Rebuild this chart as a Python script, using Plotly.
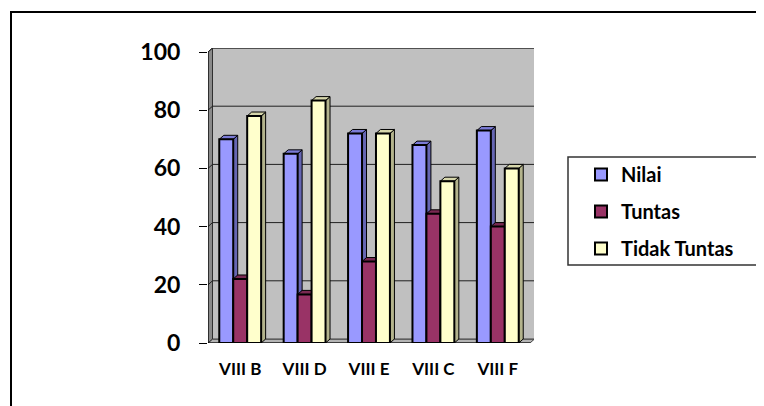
import plotly.graph_objects as go

# ---- data ----
categories = ["VIII B", "VIII D", "VIII E", "VIII C", "VIII F"]
nilai = [70, 65, 72, 68, 73]
tuntas = [22, 16.7, 28, 44.4, 40]
tidak_tuntas = [78, 83.3, 72, 55.6, 60]
series_names = ["Nilai", "Tuntas", "Tidak Tuntas"]
y_ticks = [0, 20, 40, 60, 80, 100]

# ---- styles ----
front_colors = ["#9999FF", "#993366", "#FFFFCC"]
side_colors = ["#6666B3", "#6B2447", "#B3B38C"]
top_colors = ["#7B7BD6", "#7A2952", "#D6D6AB"]
FONT = "Lato"

OFF = 8  # page body margin
W, H = 764, 406
L_px, R_px, T_px, B_px = 208 - OFF, 534 - OFF, 48 - OFF, 343 - OFF
top100_px = 52 - OFF
px_per_x = 64.4
px_per_y = (B_px - top100_px) / 100.0
x_lo = -0.5
x_hi = x_lo + (R_px - L_px) / px_per_x
y_hi = (B_px - T_px) / px_per_y
n = len(categories)
x_end = n - 0.5
dx = 4.5 / px_per_x
dy = 4.0 / px_per_y
bargap = 0.35
w = (1 - bargap) / 3

all_vals = [nilai, tuntas, tidak_tuntas]

fig = go.Figure()
for j, (name, vals) in enumerate(zip(series_names, all_vals)):
    fig.add_trace(go.Bar(
        x=list(range(n)), y=vals, name=name, legendgroup=name,
        marker=dict(color=front_colors[j], line=dict(color="black", width=2)),
        offsetgroup=str(j),
    ))

shapes = []
# floor
shapes.append(dict(type="path", xref="x", yref="y", layer="below",
                   path=f"M{x_lo},0 L{x_end},0 L{x_end+dx},{dy} L{x_lo+dx},{dy} Z",
                   fillcolor="#B4B4B4", line=dict(color="#404040", width=1)))
# back wall
shapes.append(dict(type="rect", xref="x", yref="y", layer="below",
                   x0=x_lo+dx, x1=x_end+dx, y0=dy, y1=100+dy,
                   fillcolor="#C0C0C0", line=dict(color="#404040", width=1)))
# left wall
shapes.append(dict(type="path", xref="x", yref="y", layer="below",
                   path=f"M{x_lo},0 L{x_lo+dx},{dy} L{x_lo+dx},{100+dy} L{x_lo},100 Z",
                   fillcolor="#8A8A8A", line=dict(color="#303030", width=1)))
# gridlines
for v in y_ticks[1:]:
    shapes.append(dict(type="path", xref="x", yref="y", layer="below",
                       path=f"M{x_lo},{v} L{x_lo+dx},{v+dy} L{x_end+dx},{v+dy}",
                       line=dict(color="#202020", width=1)))
# axis lines
shapes.append(dict(type="line", xref="x", yref="y", layer="above",
                   x0=x_lo, x1=x_lo, y0=0, y1=100, line=dict(color="black", width=1)))
shapes.append(dict(type="line", xref="x", yref="y", layer="above",
                   x0=x_lo, x1=x_end, y0=0, y1=0, line=dict(color="black", width=1)))

# 3D faces of bars
for i in range(n):
    for j, vals in enumerate(all_vals):
        v = vals[i]
        c = i + (j - 1) * w
        x0, x1 = c - w / 2, c + w / 2
        shapes.append(dict(type="path", xref="x", yref="y", layer="between",
                           path=f"M{x1},0 L{x1+dx},{dy} L{x1+dx},{v+dy} L{x1},{v} Z",
                           fillcolor=side_colors[j], line=dict(color="black", width=1)))
        shapes.append(dict(type="path", xref="x", yref="y", layer="between",
                           path=f"M{x0},{v} L{x1},{v} L{x1+dx},{v+dy} L{x0+dx},{v+dy} Z",
                           fillcolor=top_colors[j], line=dict(color="black", width=1)))

def px2paper_x(p):
    return (p - OFF - L_px) / (R_px - L_px)

def px2paper_y(p):
    return (B_px - (p - OFF)) / (B_px - T_px)

# outer frame
shapes.append(dict(type="rect", xref="paper", yref="paper", layer="above",
                   x0=px2paper_x(11), x1=px2paper_x(800), y0=px2paper_y(12), y1=px2paper_y(440),
                   line=dict(color="black", width=2), fillcolor="rgba(0,0,0,0)"))
# legend box
shapes.append(dict(type="rect", xref="paper", yref="paper", layer="above",
                   x0=px2paper_x(568), x1=px2paper_x(800), y0=px2paper_y(157), y1=px2paper_y(265),
                   line=dict(color="#333333", width=1.5), fillcolor="rgba(0,0,0,0)"))

fig.update_layout(
    width=W, height=H,
    margin=dict(l=L_px, r=W - R_px, t=T_px, b=H - B_px, autoexpand=False),
    paper_bgcolor="white", plot_bgcolor="white",
    barmode="group", bargap=bargap, bargroupgap=0,
    shapes=shapes,
    showlegend=True,
    legend=dict(x=px2paper_x(581), xanchor="left", y=px2paper_y(155), yanchor="top",
                font=dict(family=FONT, size=20, color="black", weight="bold"),
                traceorder="grouped", tracegroupgap=8, borderwidth=0,
                bgcolor="rgba(0,0,0,0)"),
    xaxis=dict(range=[x_lo, x_hi], tickvals=list(range(n)), ticktext=categories,
               ticks="", showgrid=False, zeroline=False, showline=False,
               tickfont=dict(family=FONT, size=17, color="black", weight="bold"),
               ticklabelstandoff=14),
    xaxis2=dict(range=[x_lo, x_hi], overlaying="x", side="bottom",
                tickvals=[k - 0.5 for k in range(n + 1)], ticktext=[""] * (n + 1),
                ticks="outside", ticklen=7, tickcolor="black", tickwidth=1,
                showgrid=False, zeroline=False, showline=False),
    yaxis=dict(range=[0, y_hi], tickvals=y_ticks, ticks="outside", ticklen=8,
               tickcolor="black", tickwidth=1, showgrid=False, zeroline=False,
               showline=False,
               tickfont=dict(family=FONT, size=23, color="black", weight="bold"),
               ticklabelstandoff=14),
)

fig.write_html("out.html")
